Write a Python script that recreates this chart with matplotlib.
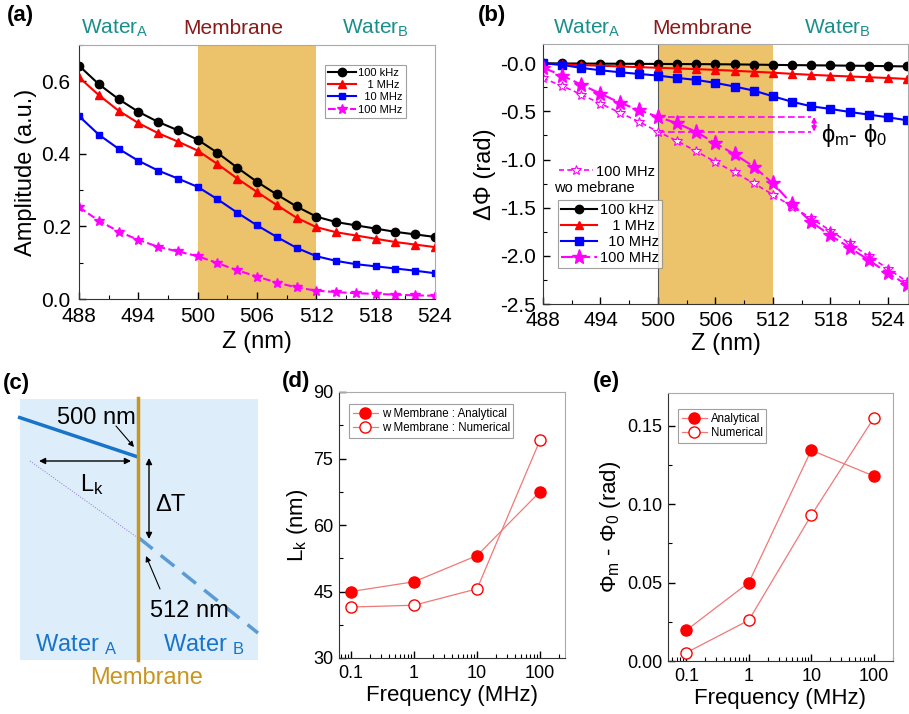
import numpy as np
import matplotlib
matplotlib.use('Agg')
import matplotlib.pyplot as plt
from matplotlib.ticker import MultipleLocator, FixedLocator, NullFormatter, LogLocator
from matplotlib.patches import Rectangle

plt.rcParams['font.family'] = ['Liberation Sans', 'DejaVu Sans']
plt.rcParams['mathtext.fontset'] = 'custom'
plt.rcParams['mathtext.rm'] = 'Liberation Sans'
plt.rcParams['mathtext.it'] = 'Liberation Sans:italic'
plt.rcParams['mathtext.default'] = 'regular'

W, H = 909, 714

# ---- panel (a): amplitude vs Z ----
z_a = [488, 490, 492, 494, 496, 498, 500, 502, 504, 506, 508, 510, 512, 514, 516, 518, 520, 522, 524]
amp_100k = [0.643, 0.592, 0.551, 0.516, 0.488, 0.465, 0.439, 0.403, 0.362, 0.323, 0.288, 0.255, 0.227,
            0.212, 0.203, 0.194, 0.185, 0.178, 0.171]
amp_1M = [0.611, 0.562, 0.519, 0.485, 0.457, 0.434, 0.409, 0.372, 0.332, 0.295, 0.259, 0.224, 0.198,
          0.184, 0.175, 0.166, 0.157, 0.150, 0.143]
amp_10M = [0.504, 0.453, 0.414, 0.381, 0.354, 0.332, 0.309, 0.275, 0.238, 0.203, 0.171, 0.141, 0.118,
           0.105, 0.096, 0.090, 0.084, 0.078, 0.071]
amp_100M = [0.253, 0.216, 0.186, 0.163, 0.144, 0.131, 0.118, 0.099, 0.079, 0.062, 0.045, 0.032, 0.023,
            0.019, 0.016, 0.014, 0.012, 0.010, 0.009]

# ---- panel (b): phase vs Z ----
z_b = [488, 490, 492, 494, 496, 498, 500, 502, 504, 506, 508, 510, 512, 514, 516, 518, 520, 522, 524, 526]
ph_100k = [0.0, -0.002, -0.003, -0.004, -0.005, -0.006, -0.007, -0.008, -0.009, -0.010, -0.012, -0.014,
           -0.017, -0.019, -0.021, -0.023, -0.025, -0.027, -0.030, -0.033]
ph_1M = [-0.005, -0.012, -0.019, -0.026, -0.033, -0.040, -0.047, -0.054, -0.061, -0.069, -0.078, -0.088,
         -0.098, -0.110, -0.120, -0.129, -0.137, -0.145, -0.153, -0.163]
ph_10M = [0.0, -0.017, -0.048, -0.073, -0.093, -0.111, -0.128, -0.152, -0.173, -0.204, -0.242, -0.284,
          -0.343, -0.400, -0.447, -0.474, -0.506, -0.533, -0.561, -0.592]
ph_100M = [-0.045, -0.128, -0.222, -0.315, -0.409, -0.485, -0.557, -0.623, -0.713, -0.831, -0.945, -1.073,
           -1.247, -1.461, -1.648, -1.787, -1.915, -2.043, -2.181, -2.300]
ph_100M_wo = [-0.156, -0.235, -0.325, -0.419, -0.512, -0.606, -0.710, -0.807, -0.914, -1.025, -1.132, -1.247,
              -1.364, -1.489, -1.610, -1.738, -1.870, -2.001, -2.133, -2.268]
phi_m = -0.557
phi_0 = -0.710

# ---- panels (d), (e) ----
freq = [0.1, 1, 10, 100]
lk_analytical = [45.0, 47.2, 53.1, 67.5]
lk_numerical = [41.5, 41.9, 45.6, 79.1]
dphi_analytical = [0.0196, 0.050, 0.1345, 0.118]
dphi_numerical = [0.0053, 0.026, 0.093, 0.155]

z_major = [488, 494, 500, 506, 512, 518, 524]
z_minor = [491, 497, 503, 509, 515, 521]
membrane = (500, 512)
band_color = '#ECC26A'
teal = '#1A8F8A'
darkred = '#8B1A1A'


def fax(left, top, right, bottom):
    return [left / W, 1 - bottom / H, (right - left) / W, (bottom - top) / H]


def style(ax, tick_size, xpad=3.5, ypad=3.5):
    for s in ['left', 'bottom']:
        ax.spines[s].set_color('#333333')
    for s in ['top', 'right']:
        ax.spines[s].set_color('#AAAAAA')
    ax.tick_params(which='both', direction='in', top=False, right=False, labelsize=tick_size)
    ax.tick_params(which='major', length=5, width=1)
    ax.tick_params(which='minor', length=3, width=0.8)
    ax.tick_params(axis='x', pad=xpad)
    ax.tick_params(axis='y', pad=ypad)


fig = plt.figure(figsize=(W / 100, H / 100), dpi=100)

# (a)
ax_a = fig.add_axes(fax(79, 45, 435, 299))
ax_a.axvspan(*membrane, color=band_color, lw=0)
ax_a.plot(z_a, amp_100k, '-o', color='black', ms=6, lw=1.5, label='100 kHz')
ax_a.plot(z_a, amp_1M, '-^', color='red', ms=6, lw=1.5, label='   1 MHz')
ax_a.plot(z_a, amp_10M, '-s', color='blue', ms=5, lw=1.5, label='  10 MHz')
ax_a.plot(z_a, amp_100M, '--*', color='magenta', ms=7, lw=1.5, label='100 MHz')
ax_a.set_xlim(488, 524)
ax_a.set_ylim(0, 0.7)
ax_a.xaxis.set_major_locator(FixedLocator(z_major))
ax_a.xaxis.set_minor_locator(FixedLocator(z_minor))
ax_a.yaxis.set_major_locator(FixedLocator([0.0, 0.2, 0.4, 0.6]))
ax_a.yaxis.set_minor_locator(MultipleLocator(0.1))
ax_a.yaxis.set_major_formatter(plt.FormatStrFormatter('%.1f'))
style(ax_a, 15, xpad=6, ypad=6)
ax_a.set_xlabel('Z (nm)', fontsize=17, labelpad=3)
ax_a.set_ylabel('Amplitude (a.u.)', fontsize=17, labelpad=3)
leg = ax_a.legend(loc='upper left', bbox_to_anchor=(0.675, 0.945), fontsize=8, frameon=True,
                  fancybox=False, edgecolor='#888888', handlelength=2.5, borderpad=0.3,
                  labelspacing=0.2, handletextpad=0.2, markerfirst=True)
leg.get_frame().set_linewidth(0.8)

# (b)
ax_b = fig.add_axes(fax(543, 44, 908, 304))
ax_b.axvspan(*membrane, color=band_color, lw=0)
ax_b.axvline(membrane[0], color='#555555', lw=0.8)
ax_b.plot(z_b, ph_100k, '-o', color='black', ms=6, lw=1.5, label='100 kHz')
ax_b.plot(z_b, ph_1M, '-^', color='red', ms=6, lw=1.5, label='   1 MHz')
ax_b.plot(z_b, ph_10M, '-s', color='blue', ms=5.5, lw=1.5, label='  10 MHz')
wo_line, = ax_b.plot(z_b, ph_100M_wo, '--*', color='magenta', mfc='white', mec='magenta', ms=7,
                     lw=1.2, mew=0.8, dashes=(3, 2))
ax_b.plot(z_b, ph_100M, '--*', color='magenta', ms=11, lw=1.5, dashes=(6, 2), label='100 MHz')
ax_b.hlines([phi_m, phi_0], membrane[0], 516, colors='magenta', linestyles=(0, (4, 2)), lw=1.2)
ax_b.annotate('', xy=(516.3, phi_0), xytext=(516.3, phi_m),
              arrowprops=dict(arrowstyle='<|-|>', color='magenta', lw=1.2, mutation_scale=7,
                              shrinkA=0, shrinkB=0))
ax_b.text(517.0, -0.75, r'$\phi_m$- $\phi_0$', fontsize=17, ha='left', va='center')
ax_b.set_xlim(488, 526.1)
ax_b.set_ylim(-2.5, 0.2)
ax_b.xaxis.set_major_locator(FixedLocator(z_major))
ax_b.xaxis.set_minor_locator(FixedLocator(z_minor))
ax_b.yaxis.set_major_locator(FixedLocator([-2.5, -2.0, -1.5, -1.0, -0.5, 0.0]))
ax_b.set_yticklabels(['-2.5', '-2.0', '-1.5', '-1.0', '-0.5', '-0.0'])
ax_b.yaxis.set_minor_locator(MultipleLocator(0.25))
style(ax_b, 15, xpad=5, ypad=5)
ax_b.set_xlabel('Z (nm)', fontsize=17, labelpad=2)
ax_b.set_ylabel('ΔΦ (rad)', fontsize=17, labelpad=3)
leg_b = ax_b.legend(loc='lower left', bbox_to_anchor=(0.02, 0.11), fontsize=10.5, frameon=True,
                    fancybox=False, edgecolor='#888888', handlelength=2.5, borderpad=0.2,
                    labelspacing=0.15, handletextpad=0.2)
leg_b.get_frame().set_linewidth(0.8)
ax_b.add_artist(leg_b)
leg_wo = ax_b.legend([wo_line], ['100 MHz'], loc='upper left', bbox_to_anchor=(0.02, 0.57),
                     fontsize=10.5, frameon=False, handlelength=2.3, handletextpad=0.2, borderpad=0.1)
ax_b.text(0.03, 0.445, 'wo mebrane', transform=ax_b.transAxes, fontsize=10.5, ha='left', va='center')

# (c) schematic, in pixel coordinates
ax_c = fig.add_axes([0, 0, 300 / W, 354 / H])
ax_c.set_xlim(0, 300)
ax_c.set_ylim(714, 360)
ax_c.axis('off')
ax_c.add_patch(Rectangle((20, 399), 238, 261, color='#DDEEFA', lw=0))
ax_c.plot([18, 138], [417, 457], color='#1874C8', lw=2.5, solid_capstyle='butt')
ax_c.plot([139, 258], [538, 633], color='#5B9BD5', lw=2.5, dashes=(5, 3))
ax_c.plot([30, 138], [461, 538], color='#9370DB', lw=0.7, ls=':')
ax_c.plot([138, 138], [398, 660], color='#C8951E', lw=2.5)
ax_c.annotate('', xy=(39, 461), xytext=(131, 461),
              arrowprops=dict(arrowstyle='<|-|>', color='black', lw=1, mutation_scale=9, shrinkA=0, shrinkB=0))
ax_c.annotate('', xy=(149, 458), xytext=(149, 539),
              arrowprops=dict(arrowstyle='<|-|>', color='black', lw=1, mutation_scale=9, shrinkA=0, shrinkB=0))
ax_c.annotate('', xy=(134, 447), xytext=(116, 426),
              arrowprops=dict(arrowstyle='-|>', color='black', lw=0.8, mutation_scale=8, shrinkA=0, shrinkB=0))
ax_c.annotate('', xy=(146, 556), xytext=(160, 589),
              arrowprops=dict(arrowstyle='-|>', color='black', lw=0.8, mutation_scale=8, shrinkA=0, shrinkB=0))
ax_c.text(96, 418, '500 nm', fontsize=17, ha='center', va='center')
ax_c.text(189, 611, '512 nm', fontsize=17, ha='center', va='center')
ax_c.text(80, 485, r'L$_k$', fontsize=17, ha='left', va='center')
ax_c.text(155, 505, 'ΔT', fontsize=17, ha='left', va='center')
ax_c.text(35, 645, r'Water $_{A}$', fontsize=17, ha='left', va='center', color='#1874C8')
ax_c.text(163, 645, r'Water $_{B}$', fontsize=17, ha='left', va='center', color='#1874C8')
ax_c.text(147, 678, 'Membrane', fontsize=17, ha='center', va='center', color='#C8951E')

# (d)
ax_d = fig.add_axes(fax(339, 392, 565, 658))
ax_d.plot(freq, lk_analytical, '-o', color='#F07878', mfc='red', mec='red', ms=8, lw=0.9,
          label='w Membrane : Analytical')
ax_d.plot(freq, lk_numerical, '-o', color='#F07878', mfc='white', mec='red', ms=8, lw=0.9,
          label='w Membrane : Numerical')
ax_d.set_xscale('log')
ax_d.set_xlim(0.064, 250)
ax_d.set_ylim(30, 90)
ax_d.set_xticks([0.1, 1, 10, 100])
ax_d.set_xticklabels(['0.1', '1', '10', '100'])
ax_d.xaxis.set_minor_locator(LogLocator(base=10, subs=np.arange(2, 10)))
ax_d.xaxis.set_minor_formatter(NullFormatter())
ax_d.yaxis.set_major_locator(MultipleLocator(15))
ax_d.yaxis.set_minor_locator(MultipleLocator(7.5))
style(ax_d, 13, xpad=5, ypad=4)
ax_d.set_xlabel('Frequency (MHz)', fontsize=16, labelpad=2)
ax_d.set_ylabel(r'L$_k$ (nm)', fontsize=16, labelpad=2)
leg_d = ax_d.legend(loc='upper left', bbox_to_anchor=(0.02, 0.975), fontsize=8.3, frameon=True,
                    fancybox=False, edgecolor='#888888', handlelength=2.2, borderpad=0.3,
                    labelspacing=0.2, handletextpad=0.3)
leg_d.get_frame().set_linewidth(0.8)

# (e)
ax_e = fig.add_axes(fax(668, 393, 893, 661))
ax_e.plot(freq, dphi_analytical, '-o', color='#F07878', mfc='red', mec='red', ms=8, lw=0.9,
          label='Analytical')
ax_e.plot(freq, dphi_numerical, '-o', color='#F07878', mfc='white', mec='red', ms=8, lw=0.9,
          label='Numerical')
ax_e.set_xscale('log')
ax_e.set_xlim(0.051, 203)
ax_e.set_ylim(0, 0.171)
ax_e.set_xticks([0.1, 1, 10, 100])
ax_e.set_xticklabels(['0.1', '1', '10', '100'])
ax_e.xaxis.set_minor_locator(LogLocator(base=10, subs=np.arange(2, 10)))
ax_e.xaxis.set_minor_formatter(NullFormatter())
ax_e.yaxis.set_major_locator(MultipleLocator(0.05))
ax_e.yaxis.set_minor_locator(MultipleLocator(0.025))
ax_e.yaxis.set_major_formatter(plt.FormatStrFormatter('%.2f'))
style(ax_e, 13, xpad=5, ypad=4)
ax_e.set_xlabel('Frequency (MHz)', fontsize=16, labelpad=2)
ax_e.set_ylabel(r'Φ$_m$ - Φ$_0$ (rad)', fontsize=16, labelpad=3)
leg_e = ax_e.legend(loc='upper left', bbox_to_anchor=(0.02, 0.96), fontsize=8.3, frameon=True,
                    fancybox=False, edgecolor='#888888', handlelength=2.2, borderpad=0.3,
                    labelspacing=0.2, handletextpad=0.3)
leg_e.get_frame().set_linewidth(0.8)

# panel letters and region labels
for lbl, px, py in [('(a)', 20, 15), ('(b)', 492, 15), ('(c)', 16, 383), ('(d)', 296, 381), ('(e)', 606, 381)]:
    fig.text(px / W, 1 - py / H, lbl, fontsize=16, fontweight='bold', ha='center', va='center')

for cx_w1, cx_m, cx_w2 in [(115, 233, 375), (587, 702, 837)]:
    fig.text(cx_w1 / W, 1 - 28 / H, r'Water$_A$', fontsize=15, color=teal, ha='center', va='center')
    fig.text(cx_m / W, 1 - 28 / H, 'Membrane', fontsize=15, color=darkred, ha='center', va='center')
    fig.text(cx_w2 / W, 1 - 28 / H, r'Water$_B$', fontsize=15, color=teal, ha='center', va='center')

fig.savefig('out.png', dpi=100)
